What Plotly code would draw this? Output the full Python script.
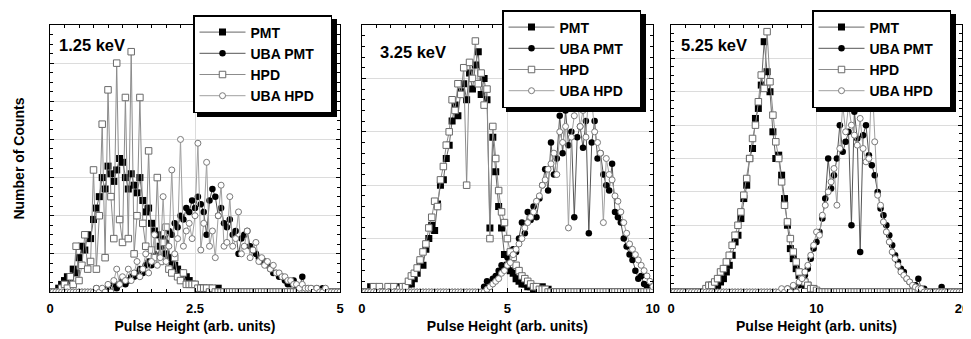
import numpy as np
import plotly.graph_objects as go

# ---------------- data ----------------
# bin grids (bin centres) for each panel
x1 = np.round(np.arange(0, 5.0001, 0.05), 3)
x2 = np.round(np.arange(0, 10.0001, 0.1), 3)
x3 = np.round(np.arange(0, 20.0001, 0.2), 3)

series_names = ["PMT", "UBA PMT", "HPD", "UBA HPD"]
panel_titles = ["1.25 keV", "3.25 keV", "5.25 keV"]

# 1.25 keV
p1_pmt = [0, 0, 0, 1, 2, 3, 4, 3, 6, 5,
          9, 12, 11, 15, 14, 19, 22, 25, 30, 27,
          33, 31, 29, 32, 35, 34, 30, 27, 31, 28,
          26, 30, 24, 21, 22, 18, 16, 15, 12, 13,
          10, 9, 8, 7, 6, 5, 4, 4, 3, 2,
          2, 1, 1, 1, 0, 1, 0, 0, 1, 0,
          0, 0, 0, 0, 0, 0, 0, 0, 0, 0,
          0, 0, 0, 0, 0, 0, 0, 0, 0, 0,
          0, 0, 0, 0, 0, 0, 0, 0, 0, 0,
          0, 0, 0, 0, 0, 0, 0, 0, 0, 0, 0]
p1_uba_pmt = [0, 0, 0, 0, 0, 0, 0, 0, 0, 0,
              0, 0, 0, 0, 0, 0, 1, 0, 0, 0,
              1, 0, 2, 1, 2, 3, 2, 3, 4, 4,
              5, 6, 5, 7, 8, 7, 10, 9, 12, 14,
              13, 16, 15, 18, 17, 20, 19, 22, 21, 24,
              22, 25, 23, 21, 15, 24, 27, 25, 20, 22,
              18, 17, 19, 15, 16, 10, 14, 15, 16, 12,
              11, 10, 9, 8, 8, 7, 6, 5, 5, 4,
              4, 3, 2, 2, 3, 1, 1, 4, 1, 0,
              1, 0, 1, 0, 1, 0, 0, 0, 0, 0, 0]
p1_hpd = [0, 0, 0, 0, 1, 2, 1, 4, 2, 12,
          3, 7, 15, 6, 8, 32, 6, 20, 44, 9,
          53, 25, 14, 60, 19, 13, 51, 14, 63, 10,
          20, 51, 18, 12, 37, 11, 9, 30, 8, 13,
          17, 6, 5, 9, 4, 3, 5, 2, 2, 2,
          2, 1, 1, 1, 1, 0, 1, 0, 0, 0,
          0, 0, 0, 0, 0, 0, 0, 0, 0, 0,
          0, 0, 0, 0, 0, 0, 0, 0, 0, 0,
          0, 0, 0, 0, 0, 0, 0, 0, 0, 0,
          0, 0, 0, 0, 0, 0, 0, 0, 0, 0, 0]
p1_uba_hpd = [0, 0, 0, 0, 0, 0, 0, 0, 0, 0,
              0, 0, 0, 0, 0, 0, 1, 0, 1, 0,
              2, 0, 3, 6, 2, 4, 3, 6, 3, 5,
              8, 4, 6, 10, 5, 8, 15, 7, 9, 25,
              8, 12, 32, 10, 14, 40, 12, 16, 18, 14,
              20, 39, 11, 18, 34, 12, 16, 9, 20, 28,
              12, 13, 25, 12, 14, 21, 10, 12, 16, 9,
              11, 13, 8, 9, 7, 8, 6, 7, 5, 5,
              4, 4, 3, 3, 2, 2, 1, 2, 1, 1,
              1, 0, 1, 0, 0, 1, 0, 0, 0, 0, 0]

# 3.25 keV
p2_pmt = [0, 0, 0, 2, 0, 0, 0, 0, 0, 0,
          2, 0, 0, 2, 0, 2, 3, 3, 5, 7,
          11, 10, 16, 20, 25, 23, 33, 40, 42, 50,
          55, 64, 70, 66, 75, 78, 72, 82, 76, 85,
          90, 74, 80, 72, 24, 58, 45, 32, 24, 14,
          10, 8, 7, 5, 4, 3, 3, 2, 2, 1,
          1, 1, 2, 0, 1, 0, 0, 0, 0, 0,
          0, 0, 0, 0, 0, 0, 0, 0, 0, 0,
          0, 0, 0, 0, 0, 0, 0, 0, 0, 0,
          0, 0, 0, 0, 0, 0, 0, 0, 0, 0, 0]
p2_uba_pmt = [0, 0, 0, 0, 0, 0, 0, 0, 0, 0,
              0, 0, 0, 0, 0, 0, 0, 0, 0, 0,
              0, 0, 0, 0, 0, 0, 0, 0, 0, 0,
              0, 0, 0, 0, 0, 0, 0, 0, 0, 0,
              0, 0, 2, 4, 3, 5, 6, 8, 10, 9,
              13, 12, 16, 15, 20, 26, 22, 30, 27, 32,
              28, 35, 40, 46, 38, 56, 44, 50, 66, 52,
              68, 55, 60, 28, 58, 62, 54, 64, 22, 56,
              64, 50, 52, 44, 40, 38, 48, 30, 28, 26,
              20, 17, 14, 12, 8, 5, 6, 3, 2, 1, 1]
p2_hpd = [0, 0, 0, 0, 2, 0, 2, 0, 0, 2,
          0, 2, 0, 1, 2, 2, 4, 6, 7, 9,
          12, 15, 18, 24, 28, 34, 32, 42, 47, 55,
          60, 72, 68, 78, 74, 84, 40, 86, 80, 94,
          78, 82, 70, 76, 20, 62, 50, 38, 30, 26,
          20, 15, 13, 10, 8, 6, 5, 4, 3, 2,
          2, 1, 1, 1, 0, 0, 0, 0, 0, 0,
          0, 0, 0, 0, 0, 0, 0, 0, 0, 0,
          0, 0, 0, 0, 0, 0, 0, 0, 0, 0,
          0, 0, 0, 0, 0, 0, 0, 0, 0, 0, 0]
p2_uba_hpd = [0, 0, 0, 0, 0, 0, 0, 0, 0, 0,
              0, 0, 0, 0, 0, 0, 0, 0, 0, 0,
              0, 0, 0, 0, 0, 0, 0, 0, 0, 0,
              0, 0, 0, 0, 0, 0, 0, 0, 0, 0,
              0, 0, 0, 1, 2, 3, 4, 5, 7, 8,
              10, 11, 14, 16, 18, 20, 24, 26, 28, 30,
              34, 36, 40, 42, 46, 48, 52, 44, 60, 56,
              62, 24, 58, 66, 74, 62, 68, 58, 76, 72,
              60, 56, 52, 26, 50, 44, 42, 36, 34, 30,
              26, 22, 18, 16, 14, 12, 10, 8, 6, 4, 2]

# 5.25 keV
p3_pmt = [0, 0, 0, 0, 0, 0, 0, 0, 0, 0,
          0, 0, 0, 4, 4, 4, 3, 6, 8, 12,
          16, 22, 30, 34, 44, 56, 64, 80, 86, 104,
          110, 124, 150, 132, 120, 96, 80, 82, 70, 56,
          40, 26, 20, 14, 10, 6, 4, 4, 2, 2,
          0, 0, 0, 0, 0, 0, 0, 0, 0, 0,
          0, 0, 0, 0, 0, 0, 0, 0, 0, 0,
          0, 0, 0, 0, 0, 0, 0, 0, 0, 0,
          0, 0, 0, 0, 0, 0, 0, 0, 0, 0,
          0, 0, 0, 0, 0, 0, 0, 0, 0, 0, 0]
p3_uba_pmt = [0, 0, 0, 0, 0, 0, 0, 0, 0, 0,
              0, 0, 0, 0, 0, 0, 0, 0, 0, 0,
              0, 0, 0, 0, 0, 0, 0, 0, 0, 0,
              0, 0, 0, 0, 0, 0, 0, 0, 0, 0,
              2, 0, 2, 0, 4, 6, 10, 14, 20, 26,
              30, 36, 44, 56, 80, 62, 70, 80, 100, 84,
              90, 96, 40, 108, 92, 24, 94, 100, 82, 76,
              70, 60, 50, 46, 40, 34, 28, 22, 18, 14,
              12, 8, 6, 4, 4, 8, 2, 2, 0, 0,
              0, 0, 0, 3, 0, 0, 0, 0, 0, 0, 0]
p3_hpd = [0, 0, 0, 0, 0, 0, 0, 0, 0, 0,
          0, 0, 2, 4, 4, 6, 8, 12, 14, 18,
          22, 28, 34, 40, 48, 58, 68, 80, 92, 100,
          114, 130, 122, 156, 126, 106, 90, 80, 66, 52,
          42, 32, 24, 18, 12, 8, 6, 4, 2, 2,
          1, 0, 0, 0, 0, 0, 0, 0, 0, 0,
          0, 0, 0, 0, 0, 0, 0, 0, 0, 0,
          0, 0, 0, 0, 0, 0, 0, 0, 0, 0,
          0, 0, 0, 0, 0, 0, 0, 0, 0, 0,
          0, 0, 0, 0, 0, 0, 0, 0, 0, 0, 0]
p3_uba_hpd = [0, 0, 0, 0, 0, 0, 0, 0, 0, 0,
              0, 0, 0, 0, 0, 0, 0, 0, 0, 0,
              0, 0, 0, 0, 0, 0, 0, 0, 0, 0,
              0, 0, 0, 0, 0, 0, 0, 0, 2, 0,
              2, 0, 4, 0, 6, 8, 12, 16, 22, 28,
              36, 34, 46, 52, 60, 66, 74, 52, 86, 112,
              96, 112, 100, 94, 88, 104, 86, 78, 80, 130,
              90, 58, 52, 42, 36, 30, 24, 20, 16, 12,
              10, 8, 6, 4, 3, 2, 2, 0, 0, 0,
              0, 0, 0, 0, 0, 0, 0, 0, 0, 0, 0]

panels = [
    (x1, [p1_pmt, p1_uba_pmt, p1_hpd, p1_uba_hpd]),
    (x2, [p2_pmt, p2_uba_pmt, p2_hpd, p2_uba_hpd]),
    (x3, [p3_pmt, p3_uba_pmt, p3_hpd, p3_uba_hpd]),
]

# ---------------- styles ----------------
FONT = "Liberation Sans, Arial, Helvetica, sans-serif"
styles = [
    dict(line=dict(color="#666666", width=1),
         marker=dict(symbol="square", size=7, color="black", line=dict(width=0))),
    dict(line=dict(color="#555555", width=1),
         marker=dict(symbol="circle", size=6.5, color="black", line=dict(width=0))),
    dict(line=dict(color="#8c8c8c", width=1),
         marker=dict(symbol="square", size=6.5, color="white", line=dict(color="#6a6a6a", width=1))),
    dict(line=dict(color="#a0a0a0", width=1),
         marker=dict(symbol="circle", size=6, color="white", line=dict(color="#7a7a7a", width=1))),
]
PAD = "\u00a0\u00a0\u00a0"  # widens the legend box a little, invisible

fig = go.Figure()
legend_ids = ["legend", "legend2", "legend3"]
for p, (xs, ys_list) in enumerate(panels):
    ax = "" if p == 0 else str(p + 1)
    for s, ys in enumerate(ys_list):
        fig.add_trace(go.Scatter(
            x=xs, y=ys, mode="lines+markers", name=series_names[s] + PAD,
            xaxis="x" + ax, yaxis="y" + ax, legend=legend_ids[p],
            line=styles[s]["line"], marker=styles[s]["marker"],
            cliponaxis=True,
        ))

# The page body adds an 8 px margin, so the figure is 8 px smaller and
# everything is laid out in page pixels minus that offset.
OFF = 8
W, H = 971 - OFF, 339 - OFF
# plot area in page pixels: x 50..962, y 25..292
L, R, T, B = 50 - OFF, 9, 25 - OFF, 47
PW, PH = W - L - R, H - T - B


def px2paper(px, py):
    return (px - OFF - L) / PW, (H - B - (py - OFF)) / PH


domains = [[0.0, 0.318], [0.342, 0.661], [0.681, 1.0]]
xranges = [[0, 5], [0, 10], [0, 20]]
xdticks = [2.5, 5, 10]
xminor = [0.25, 0.5, 1]
yranges = [[0, 70], [0, 100], [0, 160]]
ydticks = [10, 20, 20]
yminor = [2.5, 4, 5]

common = dict(showline=True, linecolor="black", linewidth=1, mirror="allticks",
              ticks="inside", ticklen=4, tickcolor="black", tickwidth=1,
              showgrid=True, gridcolor="#dcdcdc", gridwidth=1, zeroline=False)

layout = dict(
    width=W, height=H,
    margin=dict(l=L, r=R, t=T, b=B, autoexpand=False),
    paper_bgcolor="white", plot_bgcolor="white",
    font=dict(family=FONT, color="black"),
    showlegend=True,
)
for p in range(3):
    ax = "" if p == 0 else str(p + 1)
    layout["xaxis" + ax] = dict(
        common, domain=domains[p], range=xranges[p], dtick=xdticks[p], tick0=0,
        anchor="y" + ax, automargin=False, ticklabelstandoff=4,
        minor=dict(dtick=xminor[p], ticks="inside", ticklen=3, tickcolor="black", showgrid=False),
        tickfont=dict(size=13, weight="bold", family=FONT),
        title=dict(text="Pulse Height (arb. units)", font=dict(size=14, weight="bold", family=FONT), standoff=6),
    )
    layout["yaxis" + ax] = dict(
        common, range=yranges[p], dtick=ydticks[p], tick0=0, anchor="x" + ax,
        showticklabels=False, automargin=False,
        minor=dict(dtick=yminor[p], ticks="inside", ticklen=3, tickcolor="black", showgrid=False),
    )
layout["yaxis"]["title"] = dict(text="Number of Counts", font=dict(size=14, weight="bold", family=FONT), standoff=21)

# legend boxes (page-pixel top-left corners)
legend_px = [(193, 15), (502, 10), (812, 10)]
LEG_W, LEG_H, SH = 140, 98, 4
shapes = []
for p in range(3):
    lx, ly = px2paper(*legend_px[p])
    layout[legend_ids[p]] = dict(
        x=lx, y=ly, xanchor="left", yanchor="top",
        bgcolor="white", bordercolor="black", borderwidth=1.5,
        font=dict(size=14, weight="bold", family=FONT),
        itemwidth=46, tracegroupgap=0,
    )
    x0, y1 = px2paper(legend_px[p][0] + SH, legend_px[p][1] + SH)
    x1_, y0 = px2paper(legend_px[p][0] + SH + LEG_W, legend_px[p][1] + SH + LEG_H)
    shapes.append(dict(type="rect", xref="paper", yref="paper", x0=x0, x1=x1_, y0=y0, y1=y1,
                       fillcolor="black", line=dict(width=0), layer="above"))
layout["shapes"] = shapes

fig.update_layout(**layout)

# label in each panel
label_pos = [(0.024, 0.925), (0.055, 0.9), (0.027, 0.925)]
for p in range(3):
    ax = "" if p == 0 else str(p + 1)
    fig.add_annotation(
        text=panel_titles[p], xref="x" + ax + " domain", yref="y" + ax + " domain",
        x=label_pos[p][0], y=label_pos[p][1], xanchor="left", yanchor="middle",
        showarrow=False, font=dict(size=16.5, weight="bold", family=FONT),
    )

fig.write_html("out.html")
